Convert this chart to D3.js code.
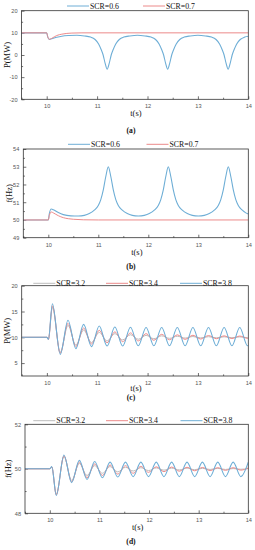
<!DOCTYPE html>
<meta charset="utf-8">
<style>
body { margin: 0; background: #fff; }
svg { display: block; font-family: "Liberation Serif", "Times New Roman", serif; }
.tick text { fill: #555; font-size: 5.6px; }
.domain { display: none; }
.tick line { stroke: #333; stroke-width: 0.7; }
.frame { fill: none; stroke: #333; stroke-width: 0.8; }
.series { fill: none; stroke-linejoin: round; }
.legend text { font-size: 7.8px; fill: #111; }
.atitle { font-size: 8.5px; fill: #111; }
.plabel { font-size: 7.6px; font-weight: bold; fill: #111; }
</style>
<body>
<script src="https://cdn.jsdelivr.net/npm/d3@7"></script>
<script>

// ---- (a) active power, SCR=0.6 / 0.7
var tA06 = [9.5, 10.0, 10.02, 10.05, 10.1, 10.2, 10.3, 10.45,
  10.6, 10.75, 10.87, 10.96, 11.03, 11.08, 11.12, 11.16, 11.2, 11.24, 11.28, 11.32, 11.37, 11.44, 11.53, 11.65, 11.8,
  11.95, 12.07, 12.16, 12.23, 12.28, 12.32, 12.36, 12.4, 12.44, 12.48, 12.52, 12.57, 12.64, 12.73, 12.85, 13.0,
  13.15, 13.27, 13.36, 13.43, 13.48, 13.52, 13.56, 13.6, 13.64, 13.68, 13.72, 13.77, 13.84, 13.93, 14.0];
var pA06 = [10, 10, 8.2, 7.0, 7.3, 8.0, 8.5, 8.8,
  8.9, 8.6, 8.1, 7.0, 5.0, 2.5, 0.0, -3.8, -6.4, -3.8, 0.0, 2.5, 5.0, 7.0, 8.1, 8.6, 8.9,
  8.6, 8.1, 7.0, 5.0, 2.5, 0.0, -3.8, -6.4, -3.8, 0.0, 2.5, 5.0, 7.0, 8.1, 8.6, 8.9,
  8.6, 8.1, 7.0, 5.0, 2.5, 0.0, -3.8, -6.4, -3.8, 0.0, 2.5, 5.0, 7.0, 8.1, 8.45];
var tA07 = [9.5, 10.0, 10.02, 10.05, 10.1, 10.15, 10.2, 10.3, 10.4, 10.5, 10.7, 14.0];
var pA07 = [10, 10, 8.3, 7.1, 7.5, 8.2, 8.8, 9.4, 9.75, 9.9, 10.0, 10.0];

// ---- (b) frequency, SCR=0.6 / 0.7
var tB06 = [9.5, 10.0, 10.02, 10.06, 10.1, 10.2, 10.3, 10.45, 10.6,
  10.72, 10.82, 10.92, 11.0, 11.05, 11.1, 11.15, 11.2, 11.25, 11.3, 11.35, 11.4, 11.48, 11.58, 11.68, 11.8,
  11.92, 12.02, 12.12, 12.2, 12.25, 12.3, 12.35, 12.4, 12.45, 12.5, 12.55, 12.6, 12.68, 12.78, 12.88, 13.0,
  13.12, 13.22, 13.32, 13.4, 13.45, 13.5, 13.55, 13.6, 13.65, 13.7, 13.75, 13.8, 13.88, 13.95, 14.0];
var fB06 = [50, 50, 50.35, 50.62, 50.58, 50.42, 50.3, 50.23, 50.22,
  50.26, 50.36, 50.55, 50.82, 51.15, 51.7, 52.45, 53.0, 52.45, 51.7, 51.15, 50.82, 50.55, 50.36, 50.26, 50.22,
  50.26, 50.36, 50.55, 50.82, 51.15, 51.7, 52.45, 53.0, 52.45, 51.7, 51.15, 50.82, 50.55, 50.36, 50.26, 50.22,
  50.26, 50.36, 50.55, 50.82, 51.15, 51.7, 52.45, 53.0, 52.45, 51.7, 51.15, 50.82, 50.55, 50.4, 50.33];
var tB07 = [9.5, 10.0, 10.02, 10.06, 10.1, 10.2, 10.3, 10.4, 10.5, 10.7, 11.0, 14.0];
var fB07 = [50, 50, 50.25, 50.45, 50.4, 50.24, 50.13, 50.07, 50.04, 50.01, 50.0, 50.0];

// ---- (c) active power, SCR=3.2 / 3.4 / 3.8 (turning points)
var tC = [9.5, 10.0, 10.03,
  10.11, 10.265, 10.42, 10.575, 10.73, 10.885, 11.04, 11.195, 11.35, 11.505, 11.66, 11.815, 11.97,
  12.125, 12.28, 12.435, 12.59, 12.745, 12.9, 13.055, 13.21, 13.365, 13.52, 13.675, 13.83, 13.985, 14.0];
var pC32 = [10, 10, 9.6,
  15.8, 7.1, 12.3, 8.5, 11.4, 9.0, 10.95, 9.3, 10.7, 9.5, 10.5, 9.62, 10.38,
  9.72, 10.28, 9.8, 10.2, 9.85, 10.15, 9.88, 10.12, 9.9, 10.1, 9.92, 10.08, 9.93, 9.93];
var pC34 = [10, 10, 9.6,
  16.1, 6.9, 12.7, 8.2, 11.8, 8.7, 11.35, 8.95, 11.05, 9.15, 10.85, 9.3, 10.7,
  9.42, 10.58, 9.52, 10.48, 9.6, 10.4, 9.66, 10.34, 9.72, 10.28, 9.76, 10.24, 9.8, 9.81];
var pC38 = [10, 10, 9.6,
  16.5, 6.7, 13.3, 7.8, 12.5, 8.2, 12.2, 8.3, 12.0, 8.3, 11.95, 8.35, 11.9,
  8.35, 11.9, 8.35, 11.9, 8.35, 11.9, 8.35, 11.9, 8.35, 11.9, 8.35, 11.9, 8.35, 8.37];

// ---- (d) frequency, SCR=3.2 / 3.4 / 3.8 (turning points)
var tD = [9.5, 10.0, 10.04,
  10.13, 10.285, 10.44, 10.595, 10.75, 10.905, 11.06, 11.215, 11.37, 11.525, 11.68, 11.835, 11.99,
  12.145, 12.3, 12.455, 12.61, 12.765, 12.92, 13.075, 13.23, 13.385, 13.54, 13.695, 13.85, 14.0];
var fD32 = [50, 50, 50.08,
  48.86, 50.55, 49.48, 50.24, 49.7, 50.14, 49.8, 50.1, 49.86, 50.07, 49.9, 50.05, 49.92,
  50.04, 49.94, 50.03, 49.95, 50.03, 49.96, 50.02, 49.97, 50.02, 49.97, 50.01, 49.98, 50.01];
var fD34 = [50, 50, 50.09,
  48.83, 50.58, 49.42, 50.3, 49.6, 50.22, 49.7, 50.17, 49.76, 50.14, 49.8, 50.11, 49.84,
  50.09, 49.87, 50.08, 49.89, 50.07, 49.91, 50.06, 49.92, 50.05, 49.93, 50.05, 49.94, 50.04];
var fD38 = [50, 50, 50.1,
  48.8, 50.62, 49.38, 50.38, 49.52, 50.33, 49.6, 50.3, 49.63, 50.3, 49.65, 50.3, 49.65,
  50.3, 49.65, 50.3, 49.65, 50.3, 49.65, 50.3, 49.65, 50.3, 49.65, 50.3, 49.65, 50.3];

var xTicks = [10, 11, 12, 13, 14];
var xMinor = [9.5, 10.5, 11.5, 12.5, 13.5];

var blue = "#6eaed6", red = "#ec8a8a", grey = "#bdbdbd";

var width = 255, height = 550;

var svg = d3.select("body").append("svg")
    .attr("width", width)
    .attr("height", height);

function zip(t, v) {
  return t.map(function(d, i) { return [d, v[i]]; });
}

function panel(p) {
  var x = d3.scaleLinear().domain([9.5, 14]).range([p.left, p.right]);
  var y = d3.scaleLinear().domain(p.yDomain).range([p.bottom, p.top]);
  var g = svg.append("g");

  // minor ticks
  g.append("g")
      .attr("transform", "translate(0," + p.bottom + ")")
      .call(d3.axisBottom(x).tickValues(xMinor).tickSize(-1.6).tickFormat(""));
  g.append("g")
      .attr("transform", "translate(" + p.left + ",0)")
      .call(d3.axisLeft(y).tickValues(p.yMinor).tickSize(-1.6).tickFormat(""));

  // major ticks
  g.append("g")
      .attr("transform", "translate(0," + p.bottom + ")")
      .call(d3.axisBottom(x).tickValues(xTicks).tickSize(-3).tickPadding(5).tickFormat(function(d) { return d; }));
  g.append("g")
      .attr("transform", "translate(" + p.left + ",0)")
      .call(d3.axisLeft(y).tickValues(p.yTicks).tickSize(-3).tickPadding(4).tickFormat(function(d) { return d; }));

  var line = d3.line()
      .curve(d3.curveMonotoneX)
      .x(function(d) { return x(d[0]); })
      .y(function(d) { return y(d[1]); });

  var clipId = "clip" + p.name;
  svg.append("clipPath").attr("id", clipId)
    .append("rect")
      .attr("x", p.left).attr("y", p.top)
      .attr("width", p.right - p.left).attr("height", p.bottom - p.top);

  g.append("g")
      .attr("clip-path", "url(#" + clipId + ")")
    .selectAll("path")
    .data(p.series)
    .enter().append("path")
      .attr("class", "series")
      .attr("d", function(d) { return line(d.values); })
      .style("stroke", function(d) { return d.color; })
      .style("stroke-width", function(d) { return d.width; });

  g.append("rect")
      .attr("class", "frame")
      .attr("x", p.left).attr("y", p.top)
      .attr("width", p.right - p.left).attr("height", p.bottom - p.top);

  // legend
  var lg = g.append("g").attr("class", "legend");
  var items = lg.selectAll("g").data(p.series).enter().append("g");
  items.append("line")
      .attr("x1", function(d, i) { return p.legendX[i]; })
      .attr("x2", function(d, i) { return p.legendX[i] + 22; })
      .attr("y1", p.legendY).attr("y2", p.legendY)
      .style("stroke", function(d) { return d.color; })
      .style("stroke-width", 1);
  items.append("text")
      .attr("x", function(d, i) { return p.legendX[i] + 23; })
      .attr("y", p.legendY)
      .attr("dy", "0.35em")
      .text(function(d) { return d.name; });

  // titles
  g.append("text")
      .attr("class", "atitle")
      .attr("x", (p.left + p.right) / 2 + 1)
      .attr("y", p.bottom + p.xTitleOff)
      .attr("dy", "0.35em")
      .attr("text-anchor", "middle")
      .text("t(s)");
  g.append("text")
      .attr("class", "atitle")
      .attr("transform", "translate(" + p.yTitleX + "," + (p.top + p.bottom) / 2 + ")rotate(-90)")
      .attr("dy", "0.35em")
      .attr("text-anchor", "middle")
      .text(p.yTitle);
  g.append("text")
      .attr("class", "plabel")
      .attr("x", 131)
      .attr("y", p.labelY)
      .attr("dy", "0.35em")
      .attr("text-anchor", "middle")
      .text(p.label);
}

panel({
  name: "a", left: 21.5, right: 248.3, top: 10.7, bottom: 99.3,
  yDomain: [-20, 20], yTicks: [-20, -10, 0, 10, 20], yMinor: [-15, -5, 5, 15],
  yTitle: "P(MW)", yTitleX: 7.5, label: "(a)", labelY: 130, xTitleOff: 14,
  legendY: 6, legendX: [67, 143],
  series: [
    {name: "SCR=0.6", color: blue, width: 1.1, values: zip(tA06, pA06)},
    {name: "SCR=0.7", color: red, width: 1.0, values: zip(tA07, pA07)}
  ]
});

panel({
  name: "b", left: 23.3, right: 248.3, top: 149, bottom: 237.7,
  yDomain: [49, 54], yTicks: [49, 50, 51, 52, 53, 54], yMinor: [49.5, 50.5, 51.5, 52.5, 53.5],
  yTitle: "f(Hz)", yTitleX: 9, label: "(b)", labelY: 266.7, xTitleOff: 14,
  legendY: 144.3, legendX: [68, 146.5],
  series: [
    {name: "SCR=0.6", color: blue, width: 1.1, values: zip(tB06, fB06)},
    {name: "SCR=0.7", color: red, width: 1.0, values: zip(tB07, fB07)}
  ]
});

panel({
  name: "c", left: 21.7, right: 248.3, top: 285.7, bottom: 376,
  yDomain: [2.5, 20], yTicks: [5, 10, 15, 20], yMinor: [7.5, 12.5, 17.5],
  yTitle: "P(MW)", yTitleX: 7.5, label: "(c)", labelY: 397.5, xTitleOff: 11.8,
  legendY: 283.3, legendX: [33.3, 106, 180],
  series: [
    {name: "SCR=3.2", color: grey, width: 1.0, values: zip(tC, pC32)},
    {name: "SCR=3.4", color: red, width: 1.0, values: zip(tC, pC34)},
    {name: "SCR=3.8", color: blue, width: 1.1, values: zip(tC, pC38)}
  ]
});

panel({
  name: "d", left: 25, right: 248.3, top: 424.3, bottom: 513.3,
  yDomain: [48, 52], yTicks: [48, 50, 52], yMinor: [49, 51],
  yTitle: "f(Hz)", yTitleX: 8.5, label: "(d)", labelY: 541, xTitleOff: 13.4,
  legendY: 420.7, legendX: [33.3, 106, 180.5],
  series: [
    {name: "SCR=3.2", color: grey, width: 1.0, values: zip(tD, fD32)},
    {name: "SCR=3.4", color: red, width: 1.0, values: zip(tD, fD34)},
    {name: "SCR=3.8", color: blue, width: 1.1, values: zip(tD, fD38)}
  ]
});

</script>
